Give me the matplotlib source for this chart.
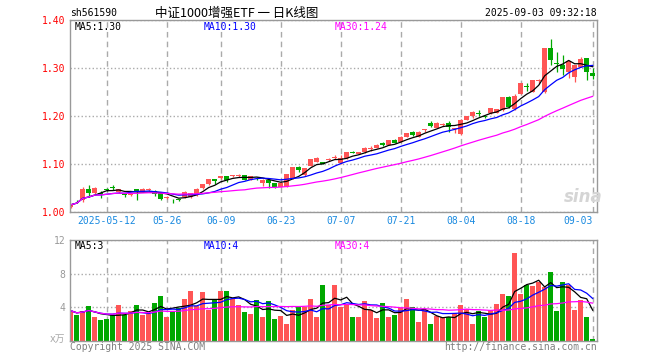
import numpy as np
import pandas as pd
import matplotlib
matplotlib.use('Agg')
import matplotlib.pyplot as plt

plt.rcParams['font.family'] = ['DejaVu Sans Mono', 'Noto Sans CJK SC']

# ---------------- 数据 ----------------
# 交易日（2025-04-29 ~ 2025-09-03，去掉五一、端午）
dates = pd.bdate_range('2025-04-29', '2025-09-03', freq='C',
                       holidays=['2025-05-01', '2025-05-02', '2025-05-05', '2025-06-02'])

open_ = [1.010, 1.023, 1.026, 1.048, 1.039, 1.039, 1.047, 1.053, 1.041, 1.037,
         1.036, 1.047, 1.042, 1.046, 1.044, 1.041, 1.030, 1.025, 1.026, 1.031,
         1.031, 1.035, 1.049, 1.058, 1.068, 1.070, 1.075, 1.075, 1.074, 1.077,
         1.067, 1.071, 1.061, 1.067, 1.060, 1.053, 1.053, 1.070, 1.093, 1.077,
         1.096, 1.105, 1.104, 1.108, 1.112, 1.103, 1.112, 1.126, 1.121, 1.124,
         1.132, 1.134, 1.143, 1.140, 1.150, 1.146, 1.157, 1.167, 1.157, 1.170,
         1.186, 1.176, 1.182, 1.185, 1.172, 1.162, 1.192, 1.200, 1.207, 1.200,
         1.206, 1.207, 1.212, 1.240, 1.214, 1.246, 1.262, 1.251, 1.273, 1.250,
         1.341, 1.311, 1.306, 1.292, 1.282, 1.303, 1.320, 1.290]
high = [1.017, 1.025, 1.053, 1.056, 1.052, 1.044, 1.049, 1.056, 1.048, 1.039,
        1.039, 1.048, 1.050, 1.050, 1.045, 1.042, 1.034, 1.027, 1.028, 1.043,
        1.040, 1.049, 1.059, 1.069, 1.069, 1.076, 1.076, 1.078, 1.079, 1.078,
        1.076, 1.073, 1.068, 1.068, 1.061, 1.061, 1.080, 1.094, 1.095, 1.092,
        1.111, 1.114, 1.105, 1.112, 1.119, 1.118, 1.125, 1.127, 1.125, 1.136,
        1.137, 1.142, 1.145, 1.150, 1.152, 1.158, 1.165, 1.169, 1.168, 1.172,
        1.190, 1.187, 1.186, 1.189, 1.176, 1.193, 1.201, 1.210, 1.213, 1.201,
        1.217, 1.215, 1.240, 1.241, 1.246, 1.269, 1.268, 1.275, 1.278, 1.342,
        1.360, 1.334, 1.327, 1.315, 1.307, 1.322, 1.321, 1.300]
low = [1.008, 1.019, 1.021, 1.032, 1.038, 1.030, 1.043, 1.046, 1.040, 1.032,
       1.034, 1.026, 1.041, 1.043, 1.034, 1.025, 1.028, 1.019, 1.022, 1.030,
       1.030, 1.033, 1.048, 1.056, 1.059, 1.069, 1.063, 1.073, 1.073, 1.066,
       1.066, 1.066, 1.054, 1.050, 1.051, 1.052, 1.052, 1.069, 1.084, 1.076,
       1.095, 1.104, 1.099, 1.106, 1.110, 1.101, 1.111, 1.122, 1.120, 1.123,
       1.128, 1.133, 1.137, 1.139, 1.143, 1.145, 1.156, 1.158, 1.156, 1.166,
       1.178, 1.175, 1.179, 1.166, 1.165, 1.161, 1.191, 1.195, 1.200, 1.196,
       1.205, 1.206, 1.211, 1.216, 1.213, 1.245, 1.252, 1.250, 1.266, 1.248,
       1.306, 1.292, 1.285, 1.280, 1.271, 1.302, 1.275, 1.277]
close = [1.015, 1.022, 1.048, 1.040, 1.051, 1.037, 1.046, 1.049, 1.047, 1.035,
         1.037, 1.041, 1.047, 1.047, 1.037, 1.027, 1.031, 1.024, 1.025, 1.042,
         1.039, 1.048, 1.058, 1.068, 1.065, 1.075, 1.066, 1.076, 1.077, 1.067,
         1.074, 1.070, 1.067, 1.061, 1.052, 1.060, 1.079, 1.093, 1.087, 1.091,
         1.110, 1.113, 1.100, 1.110, 1.113, 1.112, 1.124, 1.123, 1.124, 1.133,
         1.134, 1.139, 1.139, 1.149, 1.144, 1.157, 1.164, 1.160, 1.167, 1.172,
         1.180, 1.186, 1.184, 1.177, 1.174, 1.192, 1.200, 1.209, 1.205, 1.198,
         1.216, 1.214, 1.239, 1.218, 1.242, 1.268, 1.260, 1.274, 1.276, 1.341,
         1.317, 1.309, 1.298, 1.314, 1.306, 1.318, 1.292, 1.283]
# 成交量（万手）
volume = [3.6, 3.1, 3.6, 4.2, 2.8, 2.5, 2.6, 3.1, 4.3, 3.1,
          3.6, 4.3, 3.1, 3.2, 4.5, 5.4, 2.8, 3.6, 3.9, 5.0,
          6.0, 4.2, 5.8, 3.7, 5.0, 6.0, 5.9, 5.0, 4.3, 3.4,
          3.2, 4.9, 2.9, 4.7, 2.6, 3.0, 2.0, 3.7, 4.0, 4.0,
          5.0, 2.8, 6.7, 4.3, 6.6, 4.0, 4.4, 2.8, 2.8, 4.8,
          3.7, 2.7, 4.5, 2.8, 3.1, 3.9, 5.0, 4.0, 2.3, 3.7,
          2.0, 3.0, 2.8, 2.8, 3.3, 4.3, 3.8, 2.0, 3.6, 2.8,
          3.7, 4.4, 5.6, 5.3, 10.4, 5.6, 6.6, 6.5, 7.0, 6.4,
          8.2, 3.6, 7.0, 6.7, 3.7, 4.9, 2.8, 0.2]

tick_dates = ['2025-05-12', '2025-05-26', '2025-06-09', '2025-06-23', '2025-07-07',
              '2025-07-21', '2025-08-04', '2025-08-18', '2025-09-03']
tick_labels = ['2025-05-12', '05-26', '06-09', '06-23', '07-07',
               '07-21', '08-04', '08-18', '09-03']
price_ma_text = ['MA5:1.30', 'MA10:1.30', 'MA30:1.24']
vol_ma_text = ['MA5:3', 'MA10:4', 'MA30:4']

# ---------------- 计算 ----------------
df = pd.DataFrame({'open': open_, 'high': high, 'low': low, 'close': close, 'vol': volume})
x = np.arange(len(df))
for n in (5, 10, 30):
    df[f'ma{n}'] = df['close'].rolling(n, min_periods=1).mean()
    df[f'vma{n}'] = df['vol'].rolling(n, min_periods=1).mean()
tick_pos = [dates.get_loc(pd.Timestamp(d)) for d in tick_dates]

RED = '#ff5555'
GREEN = '#00a800'
up = df['close'] >= df['open']
colors = np.where(up, RED, GREEN)
ma_colors = ['black', '#0000ff', '#ff00ff']
GRAY = '#999999'

# ---------------- 画图 ----------------
fig = plt.figure(figsize=(6.6, 3.6), dpi=100)
ax1 = fig.add_axes([70/660, 1-212/360, 527/660, 192/360])
ax2 = fig.add_axes([70/660, 1-341/360, 527/660, 101/360])

# K线
ax1.vlines(x, df['low'], df['high'], color=colors, lw=0.9)
body_h = np.maximum((df['close'] - df['open']).abs(), 0.0018)
ax1.bar(x, body_h, bottom=np.minimum(df['open'], df['close']), width=0.8,
        color=colors, linewidth=0)
for n, c in zip((5, 10, 30), ma_colors):
    ax1.plot(x, df[f'ma{n}'], color=c, lw=0.9)

# 成交量
ax2.bar(x, df['vol'], width=0.8, color=colors, linewidth=0)
for n, c in zip((5, 10, 30), ma_colors):
    ax2.plot(x, df[f'vma{n}'], color=c, lw=0.9)

for ax in (ax1, ax2):
    ax.set_xlim(-0.12, 87.72)
    ax.set_xticks(tick_pos)
    ax.grid(axis='x', color='#aaaaaa', ls=(0, (4, 3)), lw=1)
    ax.grid(axis='y', color='#aaaaaa', ls=':', lw=1)
    ax.set_axisbelow(True)
    for s in ax.spines.values():
        s.set_color(GRAY)
        s.set_linewidth(1)
    ax.tick_params(length=0, labelsize=7)

ax1.set_ylim(1.0, 1.4)
ax1.set_yticks([1.0, 1.1, 1.2, 1.3, 1.4])
ax1.set_yticklabels([f'{v:.2f}' for v in [1.0, 1.1, 1.2, 1.3, 1.4]], color='#ff0000')
ax1.set_xticklabels(tick_labels, color='#1a8ae0')
ax1.tick_params(axis='x', pad=3)
ax1.get_xticklabels()[-1].set_ha('right')

ax2.set_ylim(0, 12)
ax2.set_yticks([4, 8, 12])
ax2.set_yticklabels(['4', '8', '12'], color=GRAY)
ax2.set_xticklabels([])

# MA 标签
for t, xp, c in zip(price_ma_text, [75, 204, 335], ma_colors):
    ax1.text((xp-70)/527, 0.962, t, transform=ax1.transAxes, color=c,
             fontsize=7, va='center', ha='left')
for t, xp, c in zip(vol_ma_text, [75, 204, 335], ma_colors):
    ax2.text((xp-70)/527, 0.94, t, transform=ax2.transAxes, color=c,
             fontsize=7, va='center', ha='left')

# 标题等文字
fig.text(70/660, 1-13/360, 'sh561590', fontsize=7, ha='left', va='center')
fig.text(236.5/660, 1-13/360, '中证1000增强ETF 一 日K线图', fontsize=9,
         ha='center', va='center', family=['Noto Sans CJK SC'])
fig.text(597/660, 1-13/360, '2025-09-03 09:32:18', fontsize=7, ha='right', va='center')
fig.text(70/660, 1-347/360, 'Copyright 2025 SINA.COM', fontsize=7, color='#808080',
         ha='left', va='center')
fig.text(597/660, 1-347/360, 'http://finance.sina.com.cn', fontsize=7, color='#808080',
         ha='right', va='center')
fig.text(65/660, 1-339/360, 'x万', fontsize=7, color='#aaaaaa', ha='right', va='center',
         family=['DejaVu Sans', 'Noto Sans CJK SC'])
fig.text(583/660, 1-197/360, 'sina', fontsize=12, color='#d5d5d5', ha='center',
         va='center', family=['DejaVu Sans'], fontweight='bold', style='italic')

fig.savefig('out.png', dpi=100)
